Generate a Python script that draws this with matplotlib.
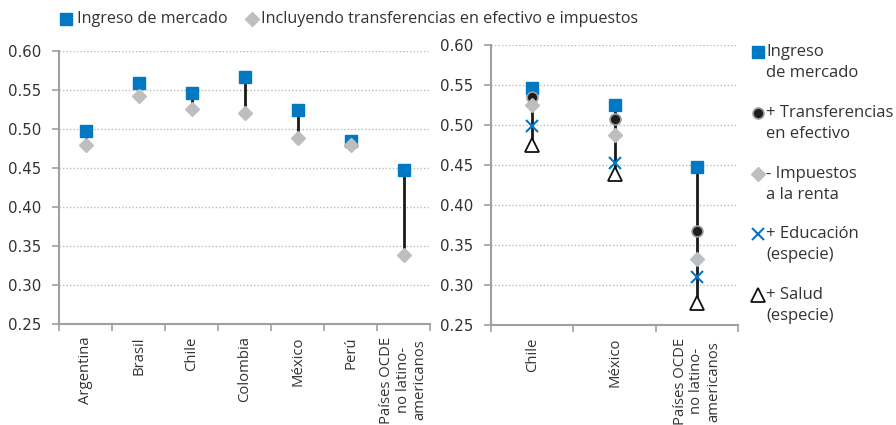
"""Gini antes y despues de impuestos y transferencias (America Latina vs OCDE)."""

import matplotlib

matplotlib.use("Agg")
import matplotlib.pyplot as plt
from matplotlib.lines import Line2D

# panel izquierdo
left_cats = ["Argentina", "Brasil", "Chile", "Colombia", "México", "Perú",
             "Países OCDE\nno latino-\namericanos"]
left_market = [0.498, 0.559, 0.546, 0.567, 0.525, 0.484, 0.448]
left_net = [0.480, 0.542, 0.526, 0.521, 0.489, 0.479, 0.339]

# panel derecho
right_cats = ["Chile", "México", "Países OCDE\nno latino-\namericanos"]
right_market = [0.546, 0.525, 0.448]
right_cash = [0.535, 0.508, 0.367]
right_tax = [0.525, 0.488, 0.333]
right_edu = [0.499, 0.453, 0.310]
right_health = [0.475, 0.439, 0.277]

top_labels = ["Ingreso de mercado", "Incluyendo transferencias en efectivo e impuestos"]
side_labels = ["Ingreso\nde mercado", "+ Transferencias\nen efectivo", "- Impuestos\na la renta",
               "+ Educación\n(especie)", "+ Salud\n(especie)"]
yticks = [0.25, 0.30, 0.35, 0.40, 0.45, 0.50, 0.55, 0.60]

BLUE = "#0079C2"
GRAY = "#BDBEC0"
SPINE = "#A0A0A0"
TXT = "#333333"

plt.rcParams["font.family"] = ["Open Sans", "DejaVu Sans"]
plt.rcParams["font.size"] = 11

W, H = 896, 425
fig = plt.figure(figsize=(W / 100, H / 100), dpi=100)


def px_box(x0, x1, ytop, ybot):
    return [x0 / W, 1 - ybot / H, (x1 - x0) / W, (ybot - ytop) / H]


ax1 = fig.add_axes(px_box(59, 430, 51, 324))
ax2 = fig.add_axes(px_box(491, 738, 45, 325))

mk = dict(linestyle="none", zorder=3)
square = dict(marker="s", ms=8.6, color=BLUE, **mk)
diamond = dict(marker="D", ms=7.0, color=GRAY, **mk)
circle = dict(marker="o", ms=7.8, mfc="#1E1E1E", mec="#9A9A9A", mew=1.2, **mk)
cross = dict(marker="x", ms=8.0, color=BLUE, mew=1.5, **mk)
tri = dict(marker="^", ms=10.5, mfc="white", mec="#111111", mew=1.3, **mk)


def style_axes(ax, cats):
    n = len(cats)
    ax.set_xlim(-0.5, n - 0.5)
    ax.set_ylim(0.25, 0.60)
    ax.set_yticks(yticks)
    ax.set_yticklabels([f"{v:.2f}" for v in yticks], family="DejaVu Sans",
                       fontsize=10.8, color=TXT)
    ax.set_xticks(range(n))
    ax.set_xticklabels(cats, rotation=90, va="top", ha="center",
                       multialignment="center", color=TXT, fontsize=10.7,
                       linespacing=1.15)
    ax.set_xticks([i - 0.5 for i in range(n + 1)], minor=True)
    ax.tick_params(axis="x", which="major", length=0, pad=9)
    ax.tick_params(axis="x", which="minor", length=5, color=SPINE, width=1.2)
    ax.tick_params(axis="y", length=5, color=SPINE, width=1.2, pad=8)
    for s in ("top", "right"):
        ax.spines[s].set_visible(False)
    for s in ("left", "bottom"):
        ax.spines[s].set_color(SPINE)
        ax.spines[s].set_linewidth(1.5)
    for v in yticks[1:]:
        ax.axhline(v, color="#BBBBBB", lw=1.0, ls=(0, (1, 1.5)), zorder=0)


# panel izquierdo
xl = range(len(left_cats))
ax1.vlines(xl, left_net, left_market, color="#1A1A1A", lw=2, zorder=2)
ax1.plot(xl, left_market, **square)
ax1.plot(xl, left_net, **diamond)
style_axes(ax1, left_cats)

# panel derecho
xr = range(len(right_cats))
ax2.vlines(xr, right_health, right_market, color="#1A1A1A", lw=2, zorder=2)
ax2.plot(xr, right_market, **square)
ax2.plot(xr, right_cash, **circle)
ax2.plot(xr, right_tax, **diamond)
ax2.plot(xr, right_edu, **cross)
ax2.plot(xr, right_health, **tri)
style_axes(ax2, right_cats)

# leyenda superior
tf = fig.transFigure
fig.add_artist(Line2D([66 / W], [1 - 19 / H], transform=tf, **square))
fig.text(77 / W, 1 - 19 / H, top_labels[0], va="center", ha="left", color=TXT, fontsize=11.6)
fig.add_artist(Line2D([252 / W], [1 - 19 / H], transform=tf, **diamond))
fig.text(261 / W, 1 - 19 / H, top_labels[1], va="center", ha="left", color=TXT, fontsize=11.6)

# leyenda lateral
side_styles = [square, circle, diamond, cross, tri]
side_y = [52, 113, 174, 234, 295]
for st, lab, y in zip(side_styles, side_labels, side_y):
    fig.add_artist(Line2D([758 / W], [1 - y / H], transform=tf, **st))
    first, second = lab.split("\n")
    fig.text(766 / W, 1 - y / H, first, va="center", ha="left", color=TXT, fontsize=12)
    fig.text(766 / W, 1 - (y + 21) / H, second, va="center", ha="left", color=TXT, fontsize=12)

fig.savefig("out.png", dpi=100)
